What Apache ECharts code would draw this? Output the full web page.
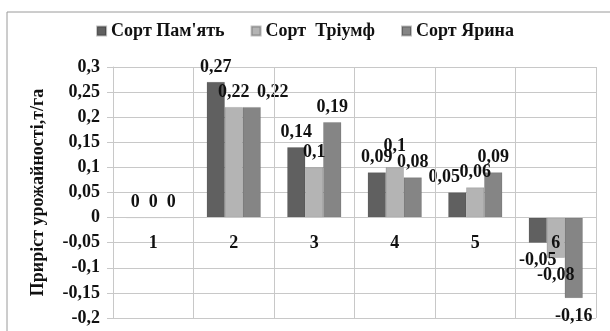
<!DOCTYPE html>
<html>
<head>
<meta charset="utf-8">
<script src="https://cdn.jsdelivr.net/npm/echarts@6/dist/echarts.min.js"></script>
<style>
  html, body { margin: 0; padding: 0; background: #fff; }
  #chart { width: 610px; height: 331px; }
</style>
</head>
<body>
<div id="chart"></div>
<script>
// Yield gain by variety across six variants
const categories = ['1', '2', '3', '4', '5', '6'];
const seriesNames = ["Сорт Пам'ять", 'Сорт  Тріумф', 'Сорт Ярина'];
const pamyat = [0, 0.27, 0.14, 0.09, 0.05, -0.05];
const triumf = [0, 0.22, 0.10, 0.10, 0.06, -0.08];
const yaryna = [0, 0.22, 0.19, 0.08, 0.09, -0.16];
const colors = ['#606060', '#b4b4b4', '#858585'];
const yMin = -0.2, yMax = 0.3, yStep = 0.05;

// Nudges [dx, dy] for value labels that would otherwise collide with neighbours
const labelNudges = {
  "Сорт Пам'ять": { 4: [-13, 0] },
  'Сорт  Тріумф': { 3: [0, -6] },
  'Сорт Ярина': { 1: [21, 0] }
};

const FONT = '"Liberation Serif", "Times New Roman", serif';
const fmt = v => String(+(+v).toFixed(2)).replace('.', ',');

function makeSeries(name, data, color) {
  const nudges = labelNudges[name] || {};
  return {
    name: name,
    type: 'bar',
    data: data.map((v, i) => {
      const label = v < 0 ? { position: 'bottom', distance: 9 } : { position: 'top', distance: 6 };
      if (nudges[i]) label.offset = nudges[i];
      return { value: v, label: label };
    }),
    barGap: '0%',
    barCategoryGap: '33%',
    itemStyle: { color: color, borderColor: 'rgba(0,0,0,0.25)', borderWidth: 0.5 },
    label: {
      show: true,
      fontFamily: FONT,
      fontWeight: 'bold',
      fontSize: 18,
      color: '#111',
      formatter: p => fmt(p.value)
    }
  };
}

const chart = echarts.init(document.getElementById('chart'), null, { renderer: 'canvas' });
chart.setOption({
  animation: false,
  backgroundColor: '#fff',
  graphic: [{
    type: 'rect',
    shape: { x: 7, y: 12, width: 610, height: 330 },
    style: { fill: 'none', stroke: '#9a9a9a', lineWidth: 1 },
    silent: true
  }],
  legend: {
    top: 17,
    left: 'center',
    itemWidth: 9,
    itemHeight: 9,
    itemGap: 26,
    icon: 'rect',
    textStyle: { fontFamily: FONT, fontWeight: 'bold', fontSize: 18, color: '#111' },
    data: seriesNames
  },
  grid: { left: 113, right: 14, top: 67, bottom: 13, containLabel: false, outerBoundsMode: 'none' },
  xAxis: {
    type: 'category',
    data: categories,
    z: 5,
    axisLine: { show: true, onZero: false, lineStyle: { color: '#c8c8c8', width: 1 } },
    axisTick: { show: false },
    axisLabel: {
      margin: 17,
      fontFamily: FONT, fontWeight: 'bold', fontSize: 18, color: '#111'
    },
    splitLine: { show: true, lineStyle: { color: '#c8c8c8', width: 1 } }
  },
  yAxis: {
    type: 'value',
    min: yMin,
    max: yMax,
    interval: yStep,
    name: 'Приріст урожайності,т/га',
    nameLocation: 'middle',
    nameGap: 66,
    nameTextStyle: { fontFamily: FONT, fontWeight: 'bold', fontSize: 18, color: '#111' },
    axisLine: { show: true, lineStyle: { color: '#c8c8c8' } },
    axisTick: { show: true, length: 6, lineStyle: { color: '#c8c8c8' } },
    axisLabel: {
      margin: 13,
      fontFamily: FONT, fontWeight: 'bold', fontSize: 18, color: '#111',
      formatter: v => fmt(v)
    },
    splitLine: { show: true, lineStyle: { color: '#c8c8c8', width: 1 } }
  },
  series: [
    makeSeries(seriesNames[0], pamyat, colors[0]),
    makeSeries(seriesNames[1], triumf, colors[1]),
    makeSeries(seriesNames[2], yaryna, colors[2])
  ]
});

// Move the category axis (line and labels) up to the zero value of the y scale
const zeroY = chart.convertToPixel({ yAxisIndex: 0 }, 0);
const bottomY = chart.convertToPixel({ yAxisIndex: 0 }, yMin);
chart.setOption({ xAxis: { offset: zeroY - bottomY } });
</script>
</body>
</html>
